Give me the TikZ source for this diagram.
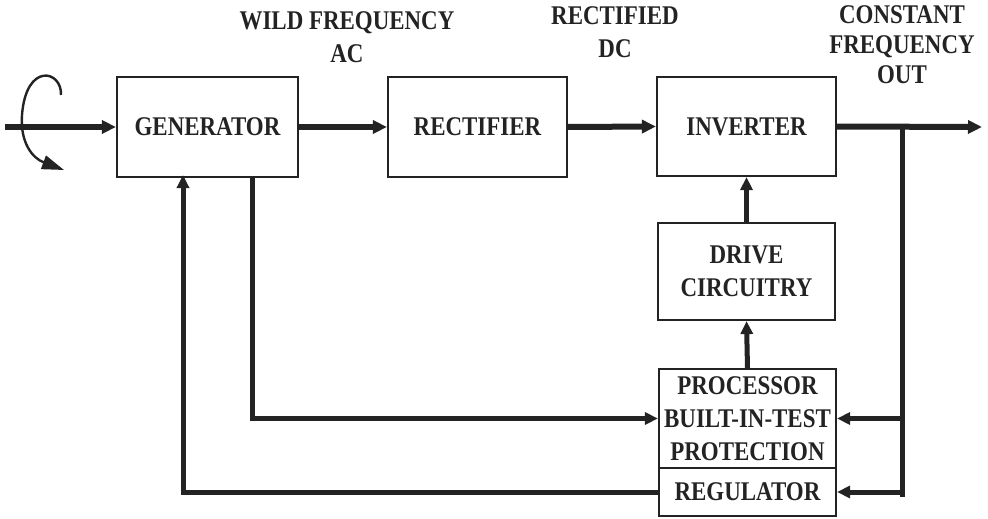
\documentclass[tikz,border=0pt]{standalone}
\usepackage{fontspec}
\setmainfont{Liberation Serif}[FakeStretch=0.85]
\usetikzlibrary{arrows.meta}
\definecolor{ink}{RGB}{35,35,35}
\begin{document}
\begin{tikzpicture}[x=1pt,y=-1pt,color=ink,
  font=\fontsize{27}{33}\selectfont\bfseries,
  blk/.style={draw,line width=2.2pt,inner sep=0pt,align=center},
  flow/.style={line width=6pt,-{Triangle[length=14pt,width=13pt]}},
  fb/.style={line width=5pt,-{Triangle[length=13pt,width=12pt]}},
  wire/.style={line width=5pt},
  lbl/.style={align=center,inner sep=0pt}]
\useasboundingbox (0,0) rectangle (988,519);
% blocks
\node[blk,minimum width=181pt,minimum height=100pt] (gen) at (207.5,127) {GENERATOR};
\node[blk,minimum width=179pt,minimum height=100pt] (rect) at (477.5,127) {RECTIFIER};
\node[blk,minimum width=179pt,minimum height=99pt] (inv) at (746.5,126.5) {INVERTER};
\node[blk,minimum width=177pt,minimum height=97pt] (drive) at (746.5,271.5) {DRIVE\\CIRCUITRY};
\node[blk,minimum width=177pt,minimum height=99pt] (proc) at (747.5,418.5) {PROCESSOR\\BUILT-IN-TEST\\PROTECTION};
\node[blk,minimum width=177pt,minimum height=48pt] (reg) at (747.5,492) {REGULATOR};
% labels
\node[lbl] (l1) at (347,37) {WILD FREQUENCY\\AC};
\node[lbl] (l2) at (615,32) {RECTIFIED\\DC};
\node[lbl,font=\fontsize{27}{30}\selectfont\bfseries] (l3) at (902,45) {CONSTANT\\FREQUENCY\\OUT};
% coordinates
\coordinate (in) at (5,127);
\coordinate (out) at (982,127);
\coordinate (tap) at (902,127);
\coordinate (tapend) at (902,497);
\coordinate (gA) at (252,176);
\coordinate (gB) at (183,176);
% main flow
\draw[flow] (in) -- (gen.west);
\draw[flow] (gen.east) -- (rect.west);
\draw[flow] (rect.east) -- (inv.west);
\draw[flow] (inv.east) -- (out);
\draw[wire] (tap) -- (tapend);
\draw[fb] (tap |- proc.east) -- (proc.east);
\draw[fb] (tap |- reg.east) -- (reg.east);
\draw[fb] (drive.north) -- (inv.south);
\draw[fb] (proc.north) -- (drive.south);
\draw[fb] (gA) |- (proc.west);
\draw[fb] (reg.west) -| ([yshift=1pt]gB);
% rotation arrow
\draw[line width=2.4pt,-{Triangle[length=22pt,width=14pt]}]
  (61,95) .. controls (62,70) and (26,62) .. (22,115)
  .. controls (20,142) and (32,158) .. (64,170);
\end{tikzpicture}
\end{document}
